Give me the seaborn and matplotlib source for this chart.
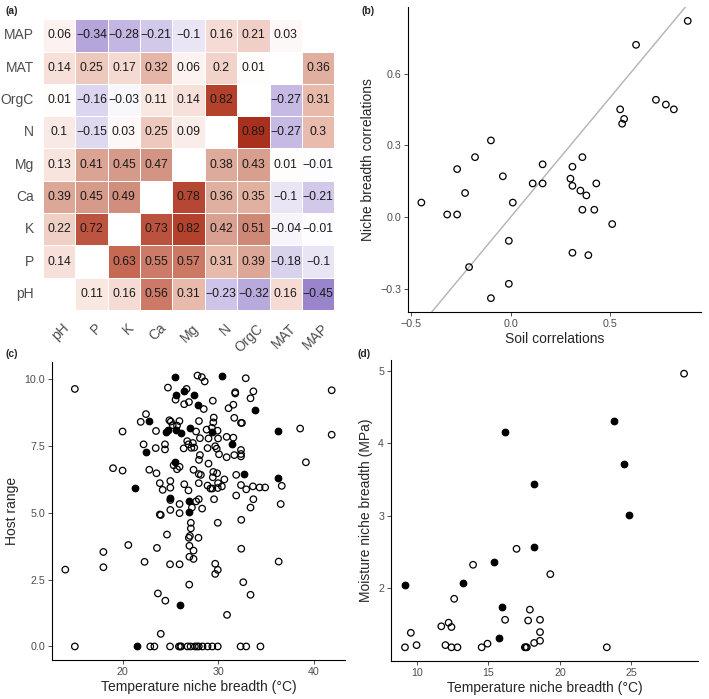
# Four-panel figure: soil / niche-breadth correlation heatmap (a),
# soil vs niche correlations (b), temperature breadth vs host range (c),
# temperature vs moisture niche breadth (d).

import numpy as np
import pandas as pd
import matplotlib
matplotlib.use("Agg")
import matplotlib.pyplot as plt
from matplotlib.colors import LinearSegmentedColormap
from matplotlib.transforms import ScaledTranslation
import seaborn as sns


# ---- data -------------------------------------------------------------------

variables = ["pH", "P", "K", "Ca", "Mg", "N", "OrgC", "MAT", "MAP"]

# one row per variable; cell above the diagonal = soil correlation,
# cell below the diagonal = niche breadth correlation
row_pH = [np.nan, 0.11, 0.16, 0.56, 0.31, -0.23, -0.32, 0.16, -0.45]
row_P = [0.14, np.nan, 0.63, 0.55, 0.57, 0.31, 0.39, -0.18, -0.1]
row_K = [0.22, 0.72, np.nan, 0.73, 0.82, 0.42, 0.51, -0.04, -0.01]
row_Ca = [0.39, 0.45, 0.49, np.nan, 0.78, 0.36, 0.35, -0.1, -0.21]
row_Mg = [0.13, 0.41, 0.45, 0.47, np.nan, 0.38, 0.43, 0.01, -0.01]
row_N = [0.1, -0.15, 0.03, 0.25, 0.09, np.nan, 0.89, -0.27, 0.3]
row_OrgC = [0.01, -0.16, -0.03, 0.11, 0.14, 0.82, np.nan, -0.27, 0.31]
row_MAT = [0.14, 0.25, 0.17, 0.32, 0.06, 0.2, 0.01, np.nan, 0.36]
row_MAP = [0.06, -0.34, -0.28, -0.21, -0.1, 0.16, 0.21, 0.03, np.nan]

# panel (c): temperature niche breadth vs host range
c_open_temp = [
    27.85, 28.3, 28.6, 32.9, 15.0, 24.75, 26.7, 31.8, 31.8, 33.7, 41.9, 25.55,
    26.95, 26.45, 29.45, 33.4, 28.5, 31.1, 31.6,
    22.45, 21.9, 24.9, 25.05, 25.95, 28.0, 29.55, 29.5, 31.7, 32.4, 32.5, 38.6, 41.9,
    20.0, 23.5, 25.25, 25.7, 27.7, 28.8, 29.35, 29.95,
    22.2, 23.47, 24.44, 24.44, 26.4, 26.77, 26.9, 27.36, 27.5, 27.2, 28.1, 29.0,
    28.9, 29.7, 29.86, 30.0, 30.9, 31.6, 32.4, 32.4, 32.4, 31.7, 30.1, 30.9, 28.1, 28.0,
    19.0, 20.0, 22.8, 23.55, 25.35, 25.7, 25.97, 27.43, 27.98, 28.2, 29.0, 29.5,
    29.9, 29.45, 30.66, 31.9, 39.2,
    23.9, 24.2, 25.0, 25.0, 26.46, 27.98, 28.9, 29.2, 29.4, 30.0, 29.97, 30.4,
    32.4, 32.95, 33.65, 34.35, 34.93, 36.67, 31.9, 26.9,
    25.0, 25.0, 25.97, 25.97, 27.26, 27.7, 27.98, 28.33, 29.58, 33.7, 33.4, 36.56,
    23.9, 24.0, 27.15, 27.15, 29.97, 24.65, 26.94, 27.05, 27.95, 32.43,
    20.6, 17.99, 17.99, 23.6, 27.0, 27.43, 27.0, 27.43, 32.43, 22.3, 24.97, 25.97,
    29.7, 29.97, 29.7, 36.35,
    14.0, 26.98, 32.64, 23.7, 24.48, 33.4, 30.94, 24.0,
    15.0, 22.9, 23.33, 24.97, 25.9, 26.04, 26.15, 26.8, 27.12, 27.57, 27.8, 27.98,
    28.37, 28.9, 29.4, 29.97, 32.36, 32.95, 34.44,
]
c_open_host = [
    10.12, 10.06, 9.9, 10.02, 9.62, 9.67, 9.62, 9.5, 9.45, 9.53, 9.57, 9.22,
    9.13, 9.05, 9.18, 9.27, 8.87, 8.9, 9.03,
    8.68, 8.39, 8.45, 8.4, 8.42, 8.42, 8.55, 8.37, 8.54, 8.35, 8.35, 8.14, 7.91,
    8.03, 8.05, 8.27, 8.25, 8.03, 8.1, 8.17, 8.06,
    7.55, 7.41, 7.55, 7.36, 7.4, 7.67, 7.55, 7.6, 7.43, 7.42, 7.78, 7.77,
    7.41, 7.48, 7.39, 7.77, 7.83, 7.8, 7.34, 7.19, 7.1, 7.15, 7.18, 7.07, 7.15, 6.97,
    6.66, 6.57, 6.6, 6.47, 6.77, 6.62, 6.71, 6.6, 6.44, 6.41, 6.83, 6.52,
    6.47, 6.32, 6.24, 6.41, 6.88,
    6.1, 5.85, 6.18, 5.93, 6.06, 6.1, 6.01, 5.9, 5.9, 6.1, 5.92, 5.98,
    6.03, 5.87, 5.98, 5.94, 5.94, 6.0, 5.64, 5.83,
    5.47, 5.1, 5.32, 4.98, 5.19, 5.42, 5.5, 5.15, 5.5, 5.5, 5.19, 5.32,
    4.93, 4.91, 4.62, 4.41, 4.62, 4.18, 4.06, 4.13, 4.06, 4.73,
    3.79, 3.53, 2.96, 3.68, 3.76, 3.58, 3.35, 3.27, 3.65, 3.16, 3.07, 3.07,
    3.09, 2.86, 2.71, 3.17,
    2.87, 2.31, 2.4, 1.98, 1.71, 1.93, 1.18, 0.47,
    0, 0, 0, 0, 0, 0, 0, 0, 0, 0, 0, 0,
    0, 0, 0, 0, 0, 0, 0,
]
c_filled_temp = [25.5, 30.45, 26.45, 25.55, 27.45, 27.9, 33.9, 22.8, 24.6, 24.8,
                 25.6, 26.1, 27.1, 29.4, 36.3, 22.5, 31.5, 25.45, 32.75, 36.3,
                 21.35, 25.0, 26.98, 26.98, 25.97, 21.46]
c_filled_host = [10.05, 10.09, 9.53, 9.4, 9.4, 9.02, 8.85, 8.43, 8.03, 8.08,
                 8.1, 7.98, 8.17, 8.0, 8.05, 7.25, 7.55, 6.9, 6.45, 6.31,
                 5.93, 5.56, 5.43, 5.02, 1.56, 0.0]

# panel (d): temperature vs moisture niche breadth
d_open_temp = [9.17, 9.58, 9.98, 11.71, 12.0, 12.22, 12.42, 12.42, 12.61, 12.84,
               13.93, 14.53, 14.94, 16.17, 16.97, 17.55, 17.62, 17.69, 17.78, 17.9,
               18.2, 18.61, 18.61, 18.61, 19.33, 23.28, 28.68]
d_open_moist = [1.18, 1.38, 1.21, 1.47, 1.21, 1.52, 1.46, 1.18, 1.85, 1.18,
                2.32, 1.18, 1.23, 1.56, 2.54, 1.18, 1.18, 1.18, 1.55, 1.70,
                1.24, 1.27, 1.39, 1.56, 2.19, 1.18, 4.96]
d_filled_temp = [9.17, 13.23, 15.36, 15.75, 15.98, 16.17, 18.2, 18.2, 23.77, 24.5, 24.8]
d_filled_moist = [2.04, 2.07, 2.36, 1.31, 1.74, 4.15, 2.57, 3.43, 4.30, 3.71, 3.01]


# ---- style ------------------------------------------------------------------

sns.set_style("ticks")
plt.rcParams["font.family"] = ["Liberation Sans", "DejaVu Sans"]
plt.rcParams["axes.linewidth"] = 0.8
TICK_GREY = "#4d4d4d"

fig = plt.figure(figsize=(7.09, 6.99), dpi=100)


def style_scatter_axes(ax):
    sns.despine(ax=ax)
    ax.spines["left"].set_color("black")
    ax.spines["bottom"].set_color("black")
    ax.tick_params(length=3, width=0.6, color="#333333",
                   labelsize=7.7, labelcolor=TICK_GREY, pad=2)


def open_points(ax, x, y):
    sns.scatterplot(x=x, y=y, ax=ax, s=22, facecolor="none",
                    edgecolor="black", linewidth=0.9, zorder=3)


def filled_points(ax, x, y):
    sns.scatterplot(x=x, y=y, ax=ax, s=22, color="black",
                    edgecolor="black", linewidth=0.9, zorder=3)


# ---- (a) heatmap ------------------------------------------------------------

rows = [row_pH, row_P, row_K, row_Ca, row_Mg, row_N, row_OrgC, row_MAT, row_MAP]
mat = pd.DataFrame(rows, index=variables, columns=variables)
mat = mat.iloc[::-1]  # MAP at the top, pH at the bottom

labels = mat.map(lambda v: "" if np.isnan(v) else f"{v:g}".replace("-", "\u2212"))

lim = 0.89
nodes = [(-0.89, "#5a3a9e"), (-0.45, "#9a84cc"), (-0.27, "#c6bae4"),
         (0.0, "#ffffff"), (0.14, "#f7e1da"), (0.3, "#e8bcae"),
         (0.45, "#d69a8a"), (0.56, "#cc7a67"), (0.72, "#bc543f"),
         (0.82, "#b3412c"), (0.89, "#a8301d")]
cmap = LinearSegmentedColormap.from_list(
    "soil", [((v + lim) / (2 * lim), c) for v, c in nodes])

ax_a = fig.add_axes([0.0606, 0.5565, 0.4109, 0.4159])
sns.heatmap(mat, mask=mat.isna(), annot=labels, fmt="", cmap=cmap,
            vmin=-lim, vmax=lim, cbar=False, linewidths=0.5, linecolor="white",
            annot_kws={"size": 8.7, "color": "#1a1a1a"}, ax=ax_a)
ax_a.tick_params(length=0, labelsize=10, labelcolor=TICK_GREY)
ax_a.tick_params(axis="y", pad=6.5)
ax_a.tick_params(axis="x", pad=8)
plt.setp(ax_a.get_yticklabels(), rotation=0)
shift = ScaledTranslation(3 / 100, 0, fig.dpi_scale_trans)
for lab in ax_a.get_xticklabels():
    lab.set_rotation(45)
    lab.set_ha("right")
    lab.set_va("top")
    lab.set_rotation_mode("anchor")
    lab.set_transform(lab.get_transform() + shift)
ax_a.set_xlabel("")
ax_a.set_ylabel("")


# ---- (b) soil vs niche breadth correlations ----------------------------------

soil_corr = []
niche_corr = []
for i in range(len(variables)):
    for j in range(i + 1, len(variables)):
        soil_corr.append(rows[i][j])
        niche_corr.append(rows[j][i])

ax_b = fig.add_axes([0.5755, 0.5536, 0.4133, 0.4363])
ax_b.axline((0, 0), slope=1, color="#b3b3b3", linewidth=1.0, zorder=1)
open_points(ax_b, soil_corr, niche_corr)
ax_b.set_xticks([-0.5, 0.0, 0.5])
ax_b.set_yticks([-0.3, 0.0, 0.3, 0.6])
ax_b.set_xlabel("Soil correlations", fontsize=10, labelpad=2)
ax_b.set_ylabel("Niche breadth correlations", fontsize=10, labelpad=4)
style_scatter_axes(ax_b)


# ---- (c) temperature niche breadth vs host range -----------------------------

ax_c = fig.add_axes([0.0733, 0.0558, 0.4133, 0.4263])
open_points(ax_c, c_open_temp, c_open_host)
filled_points(ax_c, c_filled_temp, c_filled_host)
ax_c.set_xticks([20, 30, 40])
ax_c.set_yticks([0.0, 2.5, 5.0, 7.5, 10.0])
ax_c.set_yticklabels(["0.0", "2.5", "5.0", "7.5", "10.0"])
ax_c.set_xlabel("Temperature niche breadth (\u00b0C)", fontsize=10, labelpad=2)
ax_c.set_ylabel("Host range", fontsize=10, labelpad=4)
style_scatter_axes(ax_c)


# ---- (d) temperature vs moisture niche breadth -------------------------------

ax_d = fig.add_axes([0.5515, 0.0544, 0.433, 0.4306])
open_points(ax_d, d_open_temp, d_open_moist)
filled_points(ax_d, d_filled_temp, d_filled_moist)
ax_d.set_xticks([10, 15, 20, 25])
ax_d.set_yticks([2, 3, 4, 5])
ax_d.set_xlabel("Temperature niche breadth (\u00b0C)", fontsize=10, labelpad=2)
ax_d.set_ylabel("Moisture niche breadth (MPa)", fontsize=10, labelpad=4)
style_scatter_axes(ax_d)


# ---- panel letters ----------------------------------------------------------

for x, y, letter in [(5, 11, "(a)"), (361, 11, "(b)"), (5, 354, "(c)"), (357, 354, "(d)")]:
    fig.text(x / 709, 1 - y / 699, letter, fontsize=7.5, fontweight="bold",
             ha="left", va="center")

fig.savefig("out.png", dpi=100)
